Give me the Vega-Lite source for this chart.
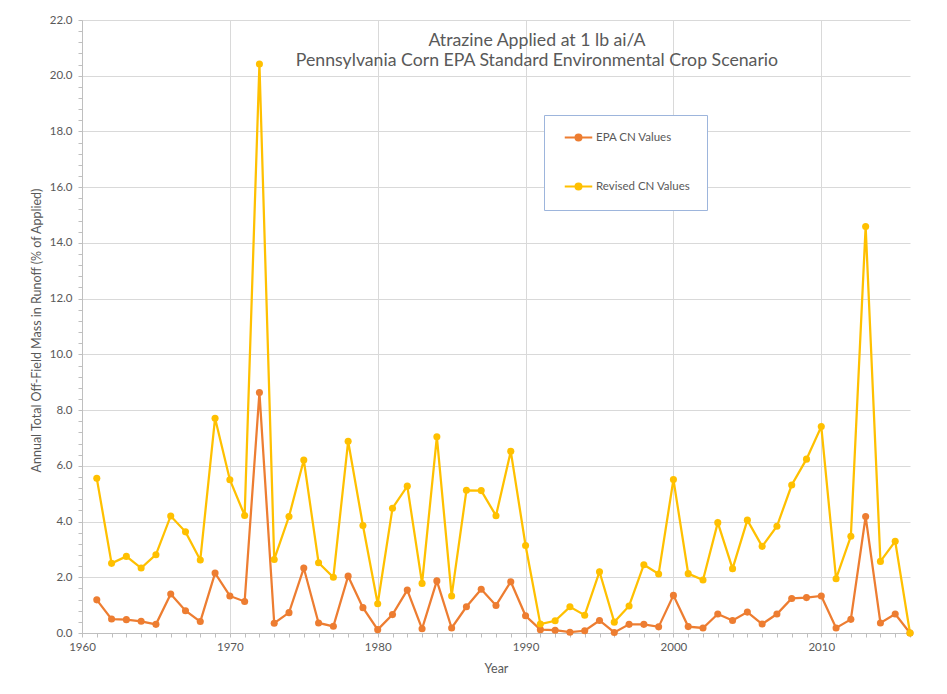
{
  "$schema": "https://vega.github.io/schema/vega-lite/v6.json",
  "width": 828,
  "height": 613,
  "autosize": "none",
  "padding": {"left": 82, "top": 20, "right": 37, "bottom": 61},
  "background": "white",
  "config": {
    "view": {"stroke": null},
    "font": "Lato"
  },
  "title": {
    "text": ["Atrazine Applied at 1 lb ai/A", "Pennsylvania Corn EPA Standard Environmental Crop Scenario"],
    "orient": "top",
    "anchor": "middle",
    "frame": "group",
    "baseline": "top",
    "offset": -56,
    "dx": 41,
    "font": "Lato",
    "fontSize": 17.7,
    "fontWeight": "normal",
    "lineHeight": 20.5,
    "color": "#595959"
  },
  "data": {
    "values": [
      {"year": 1961, "series": "EPA CN Values", "value": 1.19},
      {"year": 1962, "series": "EPA CN Values", "value": 0.50},
      {"year": 1963, "series": "EPA CN Values", "value": 0.48},
      {"year": 1964, "series": "EPA CN Values", "value": 0.42},
      {"year": 1965, "series": "EPA CN Values", "value": 0.31},
      {"year": 1966, "series": "EPA CN Values", "value": 1.40},
      {"year": 1967, "series": "EPA CN Values", "value": 0.80},
      {"year": 1968, "series": "EPA CN Values", "value": 0.41},
      {"year": 1969, "series": "EPA CN Values", "value": 2.15},
      {"year": 1970, "series": "EPA CN Values", "value": 1.33},
      {"year": 1971, "series": "EPA CN Values", "value": 1.13},
      {"year": 1972, "series": "EPA CN Values", "value": 8.63},
      {"year": 1973, "series": "EPA CN Values", "value": 0.35},
      {"year": 1974, "series": "EPA CN Values", "value": 0.73},
      {"year": 1975, "series": "EPA CN Values", "value": 2.33},
      {"year": 1976, "series": "EPA CN Values", "value": 0.36},
      {"year": 1977, "series": "EPA CN Values", "value": 0.24},
      {"year": 1978, "series": "EPA CN Values", "value": 2.04},
      {"year": 1979, "series": "EPA CN Values", "value": 0.91},
      {"year": 1980, "series": "EPA CN Values", "value": 0.12},
      {"year": 1981, "series": "EPA CN Values", "value": 0.66},
      {"year": 1982, "series": "EPA CN Values", "value": 1.54},
      {"year": 1983, "series": "EPA CN Values", "value": 0.15},
      {"year": 1984, "series": "EPA CN Values", "value": 1.87},
      {"year": 1985, "series": "EPA CN Values", "value": 0.18},
      {"year": 1986, "series": "EPA CN Values", "value": 0.94},
      {"year": 1987, "series": "EPA CN Values", "value": 1.57},
      {"year": 1988, "series": "EPA CN Values", "value": 0.99},
      {"year": 1989, "series": "EPA CN Values", "value": 1.84},
      {"year": 1990, "series": "EPA CN Values", "value": 0.62},
      {"year": 1991, "series": "EPA CN Values", "value": 0.12},
      {"year": 1992, "series": "EPA CN Values", "value": 0.10},
      {"year": 1993, "series": "EPA CN Values", "value": 0.03},
      {"year": 1994, "series": "EPA CN Values", "value": 0.08},
      {"year": 1995, "series": "EPA CN Values", "value": 0.45},
      {"year": 1996, "series": "EPA CN Values", "value": 0.02},
      {"year": 1997, "series": "EPA CN Values", "value": 0.31},
      {"year": 1998, "series": "EPA CN Values", "value": 0.31},
      {"year": 1999, "series": "EPA CN Values", "value": 0.22},
      {"year": 2000, "series": "EPA CN Values", "value": 1.35},
      {"year": 2001, "series": "EPA CN Values", "value": 0.23},
      {"year": 2002, "series": "EPA CN Values", "value": 0.18},
      {"year": 2003, "series": "EPA CN Values", "value": 0.68},
      {"year": 2004, "series": "EPA CN Values", "value": 0.45},
      {"year": 2005, "series": "EPA CN Values", "value": 0.75},
      {"year": 2006, "series": "EPA CN Values", "value": 0.32},
      {"year": 2007, "series": "EPA CN Values", "value": 0.68},
      {"year": 2008, "series": "EPA CN Values", "value": 1.24},
      {"year": 2009, "series": "EPA CN Values", "value": 1.27},
      {"year": 2010, "series": "EPA CN Values", "value": 1.33},
      {"year": 2011, "series": "EPA CN Values", "value": 0.18},
      {"year": 2012, "series": "EPA CN Values", "value": 0.49},
      {"year": 2013, "series": "EPA CN Values", "value": 4.18},
      {"year": 2014, "series": "EPA CN Values", "value": 0.36},
      {"year": 2015, "series": "EPA CN Values", "value": 0.68},
      {"year": 2016, "series": "EPA CN Values", "value": 0.0},
      {"year": 1961, "series": "Revised CN Values", "value": 5.55},
      {"year": 1962, "series": "Revised CN Values", "value": 2.50},
      {"year": 1963, "series": "Revised CN Values", "value": 2.75},
      {"year": 1964, "series": "Revised CN Values", "value": 2.33},
      {"year": 1965, "series": "Revised CN Values", "value": 2.81},
      {"year": 1966, "series": "Revised CN Values", "value": 4.20},
      {"year": 1967, "series": "Revised CN Values", "value": 3.63},
      {"year": 1968, "series": "Revised CN Values", "value": 2.62},
      {"year": 1969, "series": "Revised CN Values", "value": 7.71},
      {"year": 1970, "series": "Revised CN Values", "value": 5.50},
      {"year": 1971, "series": "Revised CN Values", "value": 4.22},
      {"year": 1972, "series": "Revised CN Values", "value": 20.42},
      {"year": 1973, "series": "Revised CN Values", "value": 2.64},
      {"year": 1974, "series": "Revised CN Values", "value": 4.18},
      {"year": 1975, "series": "Revised CN Values", "value": 6.21},
      {"year": 1976, "series": "Revised CN Values", "value": 2.52},
      {"year": 1977, "series": "Revised CN Values", "value": 2.00},
      {"year": 1978, "series": "Revised CN Values", "value": 6.88},
      {"year": 1979, "series": "Revised CN Values", "value": 3.86},
      {"year": 1980, "series": "Revised CN Values", "value": 1.05},
      {"year": 1981, "series": "Revised CN Values", "value": 4.48},
      {"year": 1982, "series": "Revised CN Values", "value": 5.27},
      {"year": 1983, "series": "Revised CN Values", "value": 1.78},
      {"year": 1984, "series": "Revised CN Values", "value": 7.04},
      {"year": 1985, "series": "Revised CN Values", "value": 1.33},
      {"year": 1986, "series": "Revised CN Values", "value": 5.12},
      {"year": 1987, "series": "Revised CN Values", "value": 5.11},
      {"year": 1988, "series": "Revised CN Values", "value": 4.21},
      {"year": 1989, "series": "Revised CN Values", "value": 6.52},
      {"year": 1990, "series": "Revised CN Values", "value": 3.14},
      {"year": 1991, "series": "Revised CN Values", "value": 0.32},
      {"year": 1992, "series": "Revised CN Values", "value": 0.44},
      {"year": 1993, "series": "Revised CN Values", "value": 0.94},
      {"year": 1994, "series": "Revised CN Values", "value": 0.64},
      {"year": 1995, "series": "Revised CN Values", "value": 2.20},
      {"year": 1996, "series": "Revised CN Values", "value": 0.39},
      {"year": 1997, "series": "Revised CN Values", "value": 0.97},
      {"year": 1998, "series": "Revised CN Values", "value": 2.45},
      {"year": 1999, "series": "Revised CN Values", "value": 2.12},
      {"year": 2000, "series": "Revised CN Values", "value": 5.51},
      {"year": 2001, "series": "Revised CN Values", "value": 2.13},
      {"year": 2002, "series": "Revised CN Values", "value": 1.90},
      {"year": 2003, "series": "Revised CN Values", "value": 3.96},
      {"year": 2004, "series": "Revised CN Values", "value": 2.31},
      {"year": 2005, "series": "Revised CN Values", "value": 4.05},
      {"year": 2006, "series": "Revised CN Values", "value": 3.11},
      {"year": 2007, "series": "Revised CN Values", "value": 3.83},
      {"year": 2008, "series": "Revised CN Values", "value": 5.31},
      {"year": 2009, "series": "Revised CN Values", "value": 6.24},
      {"year": 2010, "series": "Revised CN Values", "value": 7.41},
      {"year": 2011, "series": "Revised CN Values", "value": 1.95},
      {"year": 2012, "series": "Revised CN Values", "value": 3.47},
      {"year": 2013, "series": "Revised CN Values", "value": 14.59},
      {"year": 2014, "series": "Revised CN Values", "value": 2.57},
      {"year": 2015, "series": "Revised CN Values", "value": 3.29},
      {"year": 2016, "series": "Revised CN Values", "value": 0.0}
    ]
  },
  "layer": [
    {
      "mark": {"type": "point", "opacity": 0},
      "encoding": {
        "x": {
          "field": "year", "type": "quantitative",
          "scale": {"domain": [1960, 2016], "nice": false, "zero": false},
          "axis": {
            "orient": "bottom", "title": null, "labels": false, "grid": false, "domain": false,
            "ticks": true, "tickSize": 4, "tickColor": "#BFBFBF", "tickWidth": 1,
            "values": [1960,1961,1962,1963,1964,1965,1966,1967,1968,1969,1970,1971,1972,1973,1974,1975,1976,1977,1978,1979,1980,1981,1982,1983,1984,1985,1986,1987,1988,1989,1990,1991,1992,1993,1994,1995,1996,1997,1998,1999,2000,2001,2002,2003,2004,2005,2006,2007,2008,2009,2010,2011,2012,2013,2014,2015,2016]
          }
        },
        "y": {
          "field": "value", "type": "quantitative",
          "scale": {"domain": [0, 22], "nice": false},
          "axis": {
            "orient": "left", "title": null, "labels": false, "grid": false, "domain": false,
            "ticks": true, "tickSize": 4, "tickColor": "#BFBFBF", "tickWidth": 1,
            "values": [0,0.4,0.8,1.2,1.6,2,2.4,2.8,3.2,3.6,4,4.4,4.8,5.2,5.6,6,6.4,6.8,7.2,7.6,8,8.4,8.8,9.2,9.6,10,10.4,10.8,11.2,11.6,12,12.4,12.8,13.2,13.6,14,14.4,14.8,15.2,15.6,16,16.4,16.8,17.2,17.6,18,18.4,18.8,19.2,19.6,20,20.4,20.8,21.2,21.6,22]
          }
        }
      }
    },
    {
      "mark": {"type": "line", "strokeWidth": 2.25, "point": {"filled": true, "size": 50}},
      "encoding": {
        "x": {
          "field": "year", "type": "quantitative",
          "axis": {
            "orient": "bottom", "title": "Year", "format": "d",
            "values": [1960, 1970, 1980, 1990, 2000, 2010],
            "grid": true, "gridColor": "#D9D9D9", "gridWidth": 1,
            "ticks": false, "domain": true, "domainColor": "#BFBFBF", "domainWidth": 1,
            "labelFlush": false,
            "labelFont": "Lato", "labelFontSize": 11.5, "labelColor": "#595959", "labelPadding": 8,
            "titleFont": "Lato", "titleFontSize": 12.5, "titleFontWeight": "normal", "titleColor": "#595959",
            "titleX": 414, "titleY": 35, "titleBaseline": "middle", "titleAlign": "center"
          }
        },
        "y": {
          "field": "value", "type": "quantitative",
          "axis": {
            "orient": "left", "title": "Annual Total Off-Field Mass in Runoff (% of Applied)", "format": ".1f",
            "values": [0, 2, 4, 6, 8, 10, 12, 14, 16, 18, 20, 22],
            "grid": true, "gridColor": "#D9D9D9", "gridWidth": 1,
            "ticks": false, "domain": true, "domainColor": "#BFBFBF", "domainWidth": 1,
            "labelFlush": false,
            "labelFont": "Lato", "labelFontSize": 11.5, "labelColor": "#595959", "labelPadding": 10,
            "titleFont": "Lato", "titleFontSize": 12.5, "titleFontWeight": "normal", "titleColor": "#595959",
            "titleX": -46, "titleY": 310, "titleAngle": -90, "titleBaseline": "middle", "titleAlign": "center"
          }
        },
        "color": {
          "field": "series", "type": "nominal",
          "scale": {"domain": ["EPA CN Values", "Revised CN Values"], "range": ["#ED7D31", "#FFC000"]},
          "legend": {
            "orient": "none", "legendX": 462, "legendY": 95, "title": null, "direction": "vertical",
            "strokeColor": "#9DB5DC", "fillColor": "white", "padding": 16,
            "symbolType": "M-2.5,0H2.5M-0.55,0A0.55,0.55,0,1,0,0.55,0A0.55,0.55,0,1,0,-0.55,0Z",
            "symbolSize": 121, "symbolStrokeWidth": 2, "symbolOffset": 12, "labelOffset": 11,
            "rowPadding": 34,
            "labelFont": "Lato", "labelFontSize": 11.5, "labelColor": "#595959",
            "encode": {"symbols": {"update": {"fill": {"scale": "color", "field": "value"}, "stroke": {"scale": "color", "field": "value"}}}}
          }
        }
      }
    }
  ],
  "resolve": {"axis": {"x": "independent", "y": "independent"}}
}
